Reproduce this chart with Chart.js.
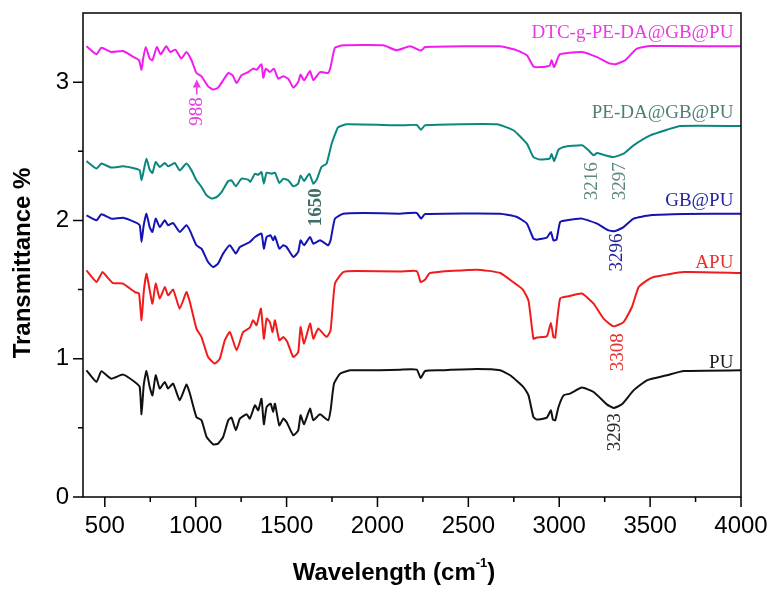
<!DOCTYPE html>
<html lang="en">
<head>
<meta charset="UTF-8">
<title>FTIR spectra</title>
<script src="https://cdn.jsdelivr.net/npm/chart.js"></script>
<style>
  * { margin: 0; padding: 0; box-sizing: border-box; }
  body { background: #fff; width: 780px; height: 598px; overflow: hidden; }
  .wrap { position: relative; width: 780px; height: 598px; }
</style>
</head>
<body>
<div class="wrap"><canvas id="ftir" width="780" height="598"></canvas></div>
<script>
  // spectra: [wavenumber, transmittance]
  const pu = [[399,0.916],[454,0.832],[481,0.909],[536,0.856],[600,0.885],[665,0.832],[692,0.795],[702,0.598],[714,0.808],[729,0.911],[747,0.795],[762,0.735],[780,0.880],[802,0.784],[830,0.832],[848,0.784],[876,0.820],[912,0.699],[949,0.813],[968,0.748],[1004,0.578],[1032,0.555],[1060,0.434],[1096,0.381],[1123,0.386],[1151,0.434],[1179,0.555],[1197,0.574],[1221,0.482],[1243,0.567],[1280,0.598],[1298,0.567],[1326,0.663],[1344,0.627],[1362,0.711],[1375,0.526],[1390,0.651],[1412,0.675],[1426,0.615],[1436,0.675],[1460,0.518],[1482,0.567],[1500,0.542],[1537,0.446],[1564,0.482],[1577,0.591],[1596,0.526],[1629,0.639],[1647,0.555],[1684,0.598],[1729,0.555],[1742,0.627],[1761,0.820],[1794,0.892],[1849,0.916],[2014,0.916],[2124,0.921],[2216,0.921],[2238,0.860],[2262,0.911],[2345,0.916],[2547,0.925],[2675,0.916],[2730,0.880],[2803,0.795],[2831,0.735],[2858,0.578],[2877,0.560],[2932,0.574],[2954,0.627],[2965,0.560],[2978,0.555],[2996,0.651],[3024,0.735],[3060,0.748],[3125,0.791],[3189,0.759],[3262,0.670],[3299,0.644],[3345,0.670],[3409,0.771],[3483,0.844],[3593,0.880],[3685,0.911],[4000,0.916]];

  const apu = [[399,1.639],[454,1.555],[487,1.627],[509,1.596],[545,1.547],[600,1.543],[665,1.482],[688,1.471],[702,1.278],[714,1.482],[729,1.615],[747,1.495],[762,1.398],[780,1.543],[802,1.435],[830,1.518],[848,1.458],[876,1.500],[912,1.362],[949,1.482],[968,1.410],[1004,1.218],[1032,1.157],[1068,1.012],[1105,0.965],[1133,1.001],[1160,1.133],[1188,1.193],[1225,1.061],[1261,1.193],[1298,1.225],[1316,1.278],[1335,1.242],[1359,1.362],[1375,1.145],[1390,1.290],[1408,1.265],[1423,1.193],[1436,1.278],[1460,1.133],[1482,1.157],[1504,1.121],[1537,1.012],[1564,1.048],[1577,1.229],[1596,1.109],[1629,1.254],[1647,1.145],[1674,1.218],[1720,1.157],[1742,1.205],[1766,1.543],[1812,1.627],[1886,1.634],[2124,1.630],[2216,1.634],[2238,1.555],[2262,1.572],[2289,1.620],[2547,1.644],[2675,1.620],[2758,1.543],[2800,1.500],[2831,1.420],[2858,1.145],[2877,1.153],[2932,1.162],[2954,1.258],[2968,1.157],[2978,1.153],[3005,1.435],[3051,1.451],[3125,1.471],[3189,1.398],[3244,1.290],[3299,1.234],[3354,1.265],[3400,1.374],[3437,1.518],[3483,1.567],[3519,1.591],[3685,1.627],[4000,1.620]];

  const gbpu = [[399,2.037],[454,2.001],[481,2.044],[536,2.013],[600,2.020],[665,1.988],[692,1.965],[702,1.844],[714,1.965],[729,2.049],[747,1.952],[762,1.916],[780,2.013],[802,1.952],[830,2.001],[848,1.965],[876,1.981],[912,1.916],[949,1.965],[968,1.928],[1004,1.820],[1032,1.796],[1068,1.699],[1096,1.663],[1123,1.688],[1151,1.760],[1188,1.820],[1221,1.760],[1243,1.808],[1280,1.832],[1298,1.844],[1326,1.880],[1362,1.905],[1375,1.796],[1390,1.880],[1412,1.892],[1426,1.856],[1436,1.885],[1460,1.796],[1482,1.820],[1500,1.808],[1537,1.735],[1564,1.772],[1577,1.856],[1596,1.820],[1629,1.880],[1647,1.832],[1684,1.856],[1729,1.820],[1742,1.856],[1766,2.013],[1812,2.049],[1921,2.054],[2124,2.049],[2216,2.054],[2240,2.013],[2262,2.046],[2675,2.049],[2767,2.025],[2822,1.977],[2858,1.868],[2877,1.861],[2932,1.876],[2954,1.916],[2968,1.856],[2985,1.861],[3005,1.988],[3042,2.001],[3125,2.013],[3208,1.977],[3271,1.928],[3308,1.923],[3354,1.952],[3409,2.013],[3501,2.037],[3685,2.046],[4000,2.049]];

  const pedaGbpu = [[399,2.429],[454,2.375],[481,2.411],[536,2.382],[600,2.391],[665,2.375],[692,2.362],[702,2.290],[714,2.360],[729,2.447],[747,2.367],[762,2.343],[780,2.422],[802,2.386],[830,2.415],[848,2.391],[885,2.415],[912,2.362],[949,2.411],[977,2.362],[1004,2.290],[1032,2.242],[1060,2.181],[1087,2.158],[1115,2.169],[1142,2.205],[1179,2.285],[1197,2.290],[1221,2.247],[1252,2.302],[1289,2.295],[1301,2.280],[1326,2.338],[1344,2.330],[1362,2.350],[1375,2.266],[1390,2.345],[1417,2.338],[1436,2.345],[1460,2.271],[1482,2.302],[1509,2.290],[1537,2.247],[1564,2.266],[1577,2.326],[1596,2.285],[1625,2.338],[1647,2.266],[1665,2.293],[1692,2.386],[1720,2.411],[1748,2.555],[1775,2.652],[1784,2.675],[1830,2.695],[2124,2.688],[2216,2.690],[2240,2.656],[2262,2.688],[2657,2.695],[2748,2.652],[2822,2.555],[2858,2.458],[2895,2.440],[2947,2.447],[2958,2.480],[2972,2.430],[2996,2.512],[3024,2.531],[3125,2.543],[3161,2.507],[3189,2.471],[3208,2.487],[3235,2.478],[3299,2.458],[3354,2.483],[3409,2.543],[3501,2.615],[3593,2.656],[3666,2.683],[4000,2.683]];

  const dtc = [[399,3.259],[454,3.201],[481,3.249],[536,3.218],[600,3.225],[665,3.177],[688,3.158],[702,3.090],[711,3.170],[725,3.254],[747,3.170],[762,3.158],[786,3.254],[807,3.201],[838,3.259],[860,3.218],[888,3.235],[921,3.170],[949,3.218],[977,3.158],[1004,3.066],[1032,3.042],[1068,2.970],[1096,2.946],[1123,2.960],[1151,3.013],[1179,3.066],[1203,3.050],[1225,2.993],[1252,3.050],[1289,3.073],[1316,3.098],[1335,3.090],[1362,3.129],[1372,3.032],[1386,3.098],[1408,3.073],[1430,3.098],[1454,3.025],[1482,3.042],[1509,3.025],[1537,2.960],[1564,3.001],[1577,3.056],[1596,3.013],[1629,3.080],[1647,3.013],[1684,3.073],[1729,3.066],[1742,3.109],[1766,3.249],[1812,3.266],[2032,3.266],[2105,3.230],[2179,3.259],[2240,3.228],[2262,3.254],[2675,3.259],[2767,3.230],[2822,3.194],[2858,3.114],[2895,3.109],[2947,3.120],[2958,3.158],[2972,3.109],[3002,3.201],[3042,3.210],[3125,3.218],[3208,3.181],[3271,3.138],[3308,3.129],[3363,3.158],[3427,3.242],[3501,3.261],[4000,3.259]];

  const seriesNames = ['PU', 'APU', 'GB@PU', 'PE-DA@GB@PU', 'DTC-g-PE-DA@GB@PU'];
  const peakValues = ['3293', '3308', '3296', '3216', '3297', '1650', '988'];

  const xTicks = [500, 1000, 1500, 2000, 2500, 3000, 3500, 4000];
  const xMinorTicks = [750, 1250, 1750, 2250, 2750, 3250, 3750];
  const yTicks = [0, 1, 2, 3];
  const yMinorTicks = [0.5, 1.5, 2.5];

  const lineColors = ['#111111', '#f01c1c', '#1414b4', '#0b877d', '#f01cf0'];
  const nameColors = ['#1a1a1a', '#e8302c', '#2424a0', '#4d7f78', '#e83ce0'];

  // where the name labels sit (right end, baseline) in data units
  const nameSpots = [[3958, 0.93], [3958, 1.653], [3958, 2.102], [3958, 2.743], [3958, 3.316]];
  // rotated peak labels: center wavenumber, top of text
  const peakSpots = [
    { x: 3308, y: 0.605, color: '#2a2a2a' },
    { x: 3324, y: 1.184, color: '#e8302c' },
    { x: 3319, y: 1.906, color: '#2424a0' },
    { x: 3183, y: 2.420, color: '#5d8882' },
    { x: 3333, y: 2.420, color: '#5d8882' },
    { x: 1664, y: 2.232, color: '#3f6e68', bold: true },
    { x: 1006, y: 2.890, color: '#e83ce0' }
  ];

  const serif = '"Liberation Serif", "Times New Roman", serif';
  const sans = '"Liberation Sans", Arial, sans-serif';

  const frameAndTicks = {
    id: 'frameAndTicks',
    afterDraw(chart) {
      const { ctx, chartArea: a, scales: { x, y } } = chart;
      ctx.save();
      ctx.strokeStyle = '#000';
      ctx.lineWidth = 1.5;
      ctx.strokeRect(a.left, a.top, a.right - a.left, a.bottom - a.top);
      ctx.beginPath();
      xTicks.forEach(v => { const px = x.getPixelForValue(v); ctx.moveTo(px, a.bottom); ctx.lineTo(px, a.bottom + 10); });
      xMinorTicks.forEach(v => { const px = x.getPixelForValue(v); ctx.moveTo(px, a.bottom); ctx.lineTo(px, a.bottom + 5); });
      yTicks.forEach(v => { const py = y.getPixelForValue(v); ctx.moveTo(a.left, py); ctx.lineTo(a.left - 10, py); });
      yMinorTicks.forEach(v => { const py = y.getPixelForValue(v); ctx.moveTo(a.left, py); ctx.lineTo(a.left - 5, py); });
      ctx.stroke();

      // axis titles
      ctx.fillStyle = '#000';
      ctx.font = 'bold 24px ' + sans;
      ctx.textBaseline = 'middle';
      ctx.textAlign = 'center';
      ctx.save();
      ctx.translate(23, 263);
      ctx.rotate(-Math.PI / 2);
      ctx.fillText('Transmittance %', 0, 0);
      ctx.restore();

      const main = 'Wavelength (cm', sup = '-1', tail = ')';
      ctx.font = 'bold 24px ' + sans;
      const w1 = ctx.measureText(main).width, w3 = ctx.measureText(tail).width;
      ctx.font = 'bold 13px ' + sans;
      const w2 = ctx.measureText(sup).width;
      let sx = 394 - (w1 + w2 + w3) / 2;
      ctx.textAlign = 'left';
      ctx.textBaseline = 'alphabetic';
      ctx.font = 'bold 24px ' + sans;
      ctx.fillText(main, sx, 580);
      ctx.font = 'bold 13px ' + sans;
      ctx.fillText(sup, sx + w1, 567);
      ctx.font = 'bold 24px ' + sans;
      ctx.fillText(tail, sx + w1 + w2, 580);
      ctx.restore();
    }
  };

  const labels = {
    id: 'labels',
    afterDatasetsDraw(chart) {
      const { ctx, scales: { x, y } } = chart;
      ctx.save();
      ctx.font = '19px ' + serif;
      ctx.textAlign = 'right';
      ctx.textBaseline = 'alphabetic';
      seriesNames.forEach((n, i) => {
        ctx.fillStyle = nameColors[i];
        ctx.fillText(n, x.getPixelForValue(nameSpots[i][0]), y.getPixelForValue(nameSpots[i][1]));
      });
      peakSpots.forEach((p, i) => {
        ctx.save();
        ctx.translate(x.getPixelForValue(p.x), y.getPixelForValue(p.y));
        ctx.rotate(-Math.PI / 2);
        ctx.font = (p.bold ? 'bold ' : '') + '19px ' + serif;
        ctx.fillStyle = p.color;
        ctx.textAlign = 'right';
        ctx.textBaseline = 'middle';
        ctx.fillText(peakValues[i], 0, 0);
        ctx.restore();
      });
      // arrow above 988
      const ax = x.getPixelForValue(1006);
      const a0 = y.getPixelForValue(2.91), a1 = y.getPixelForValue(3.02);
      ctx.strokeStyle = '#e83ce0';
      ctx.fillStyle = '#e83ce0';
      ctx.lineWidth = 1.5;
      ctx.beginPath();
      ctx.moveTo(ax, a0);
      ctx.lineTo(ax, a1 + 5);
      ctx.stroke();
      ctx.beginPath();
      ctx.moveTo(ax, a1);
      ctx.lineTo(ax - 4, a1 + 8);
      ctx.lineTo(ax + 4, a1 + 8);
      ctx.closePath();
      ctx.fill();
      ctx.restore();
    }
  };

  const ctx = document.getElementById('ftir').getContext('2d');
  new Chart(ctx, {
    type: 'line',
    data: {
      datasets: [pu, apu, gbpu, pedaGbpu, dtc].map((s, i) => ({
        label: seriesNames[i],
        data: s.map(p => ({ x: p[0], y: p[1] })),
        borderColor: lineColors[i],
        borderWidth: 2,
        pointRadius: 0,
        fill: false,
        tension: 0.15,
        borderJoinStyle: 'round'
      }))
    },
    options: {
      responsive: false,
      devicePixelRatio: 1,
      animation: false,
      layout: { padding: { top: 13, right: 39, left: 0, bottom: 0 } },
      plugins: { legend: { display: false }, tooltip: { enabled: false } },
      scales: {
        x: {
          type: 'linear',
          min: 380,
          max: 4000,
          afterBuildTicks: s => { s.ticks = xTicks.map(v => ({ value: v })); },
          afterFit: s => { s.height = 101; s.paddingLeft = 0; s.paddingRight = 0; },
          grid: { display: false, drawTicks: false },
          border: { display: false },
          ticks: { color: '#000', padding: 15, maxRotation: 0, callback: v => String(v), font: { family: sans, size: 24 } }
        },
        y: {
          min: 0,
          max: 3.5,
          afterBuildTicks: s => { s.ticks = yTicks.map(v => ({ value: v })); },
          afterFit: s => { s.width = 83; s.paddingTop = 0; s.paddingBottom = 0; },
          grid: { display: false, drawTicks: false },
          border: { display: false },
          ticks: { color: '#000', padding: 14, callback: v => String(v), font: { family: sans, size: 24 } }
        }
      }
    },
    plugins: [labels, frameAndTicks]
  });
</script>
</body>
</html>
